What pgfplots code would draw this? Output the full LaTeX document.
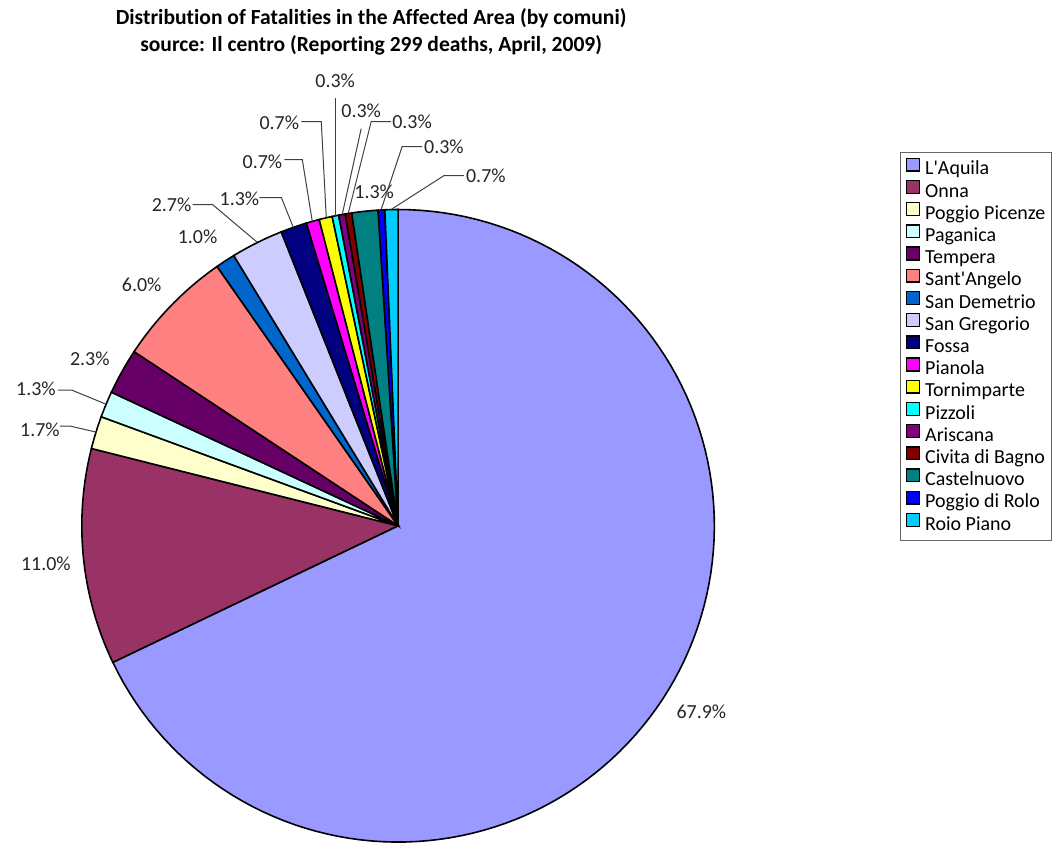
\documentclass[border=0pt]{standalone}
\usepackage{pgfplots}
\pgfplotsset{compat=1.18}
\usepackage{fontspec}
\setmainfont{Carlito}[Ligatures={TeXOff,CommonOff}]
\definecolor{cA}{HTML}{9999FF}
\definecolor{cB}{HTML}{993366}
\definecolor{cC}{HTML}{FFFFCC}
\definecolor{cD}{HTML}{CCFFFF}
\definecolor{cE}{HTML}{660066}
\definecolor{cF}{HTML}{FF8080}
\definecolor{cG}{HTML}{0066CC}
\definecolor{cH}{HTML}{CCCCFF}
\definecolor{cI}{HTML}{000080}
\definecolor{cJ}{HTML}{FF00FF}
\definecolor{cK}{HTML}{FFFF00}
\definecolor{cL}{HTML}{00FFFF}
\definecolor{cM}{HTML}{800080}
\definecolor{cN}{HTML}{800000}
\definecolor{cO}{HTML}{008080}
\definecolor{cP}{HTML}{0000FF}
\definecolor{cQ}{HTML}{00CCFF}
% #1 cumulative deaths before slice, #2 cumulative deaths after slice (of 299)
\newcommand{\slice}[4]{%
  \addplot[draw=black, line width=0.8pt, fill=#3,
    domain={90-#2*360/299}:{90-#1*360/299}, samples=120, variable=\t]
    ({399+317*cos(\t)},{320+317*sin(\t)}) -- (axis cs:399,320) -- cycle;
  \addlegendentry{#4}
}
\begin{document}
\begin{tikzpicture}[lab/.style={font=\fontsize{10}{12}\selectfont, text=black!85, inner sep=0pt}]
\begin{axis}[
  scale only axis, width=526pt, height=423.5pt,
  xmin=0, xmax=1052, ymin=0, ymax=847,
  hide axis, clip=false,
  legend cell align=left,
  legend image code/.code={\draw[#1, line width=0.65pt] (0pt,-0.4pt) rectangle (6.4pt,6.0pt);},
  legend style={draw=black!60, line width=0.5pt, at={(axis cs:903,694)}, anchor=north west,
    outer sep=0pt,
    font=\fontsize{10}{12}\selectfont, row sep=0pt, column sep=2pt, inner xsep=2.5pt, inner ysep=2.5pt,
    nodes={inner sep=0.6pt, text height=6.5pt, text depth=1.9pt}},
  leader/.style={black!75, line width=0.5pt, forget plot, mark=none},
]
\path (axis cs:0,0) rectangle (axis cs:1052,847);
\slice{0}{203}{cA}{L'Aquila}
\slice{203}{236}{cB}{Onna}
\slice{236}{241}{cC}{Poggio Picenze}
\slice{241}{245}{cD}{Paganica}
\slice{245}{252}{cE}{Tempera}
\slice{252}{270}{cF}{Sant'Angelo}
\slice{270}{273}{cG}{San Demetrio}
\slice{273}{281}{cH}{San Gregorio}
\slice{281}{285}{cI}{Fossa}
\slice{285}{287}{cJ}{Pianola}
\slice{287}{289}{cK}{Tornimparte}
\slice{289}{290}{cL}{Pizzoli}
\slice{290}{291}{cM}{Ariscana}
\slice{291}{292}{cN}{Civita di Bagno}
\slice{292}{296}{cO}{Castelnuovo}
\slice{296}{297}{cP}{Poggio di Rolo}
\slice{297}{299}{cQ}{Roio Piano}
% leader lines
\addplot[leader] coordinates {(60,420) (70,420) (96,414)};
\addplot[leader] coordinates {(58,456) (72,456) (106,442)};
\addplot[leader] coordinates {(193,642) (213,642) (258,604)};
\addplot[leader] coordinates {(260,649) (282,649) (294,619)};
\addplot[leader] coordinates {(285,687) (303,687) (313,625)};
\addplot[leader] coordinates {(302,725) (322,725) (327,629)};
\addplot[leader] coordinates {(336,749) (336,631)};
\addplot[leader] coordinates {(362,718) (343,632)};
\addplot[leader] coordinates {(392,725) (372,725) (349,633)};
\addplot[leader] coordinates {(423,700) (403,700) (382,637)};
\addplot[leader] coordinates {(465,671) (445,671) (392,637)};
% labels
\node[lab] at (axis cs:703,134) {67.9\%};
\node[lab] at (axis cs:46,282) {11.0\%};
\node[lab] at (axis cs:40,416) {1.7\%};
\node[lab] at (axis cs:36,457) {1.3\%};
\node[lab] at (axis cs:90,487) {2.3\%};
\node[lab] at (axis cs:142,562) {6.0\%};
\node[lab] at (axis cs:198,610) {1.0\%};
\node[lab] at (axis cs:172,642) {2.7\%};
\node[lab] at (axis cs:240,648) {1.3\%};
\node[lab] at (axis cs:263,685) {0.7\%};
\node[lab] at (axis cs:280,724) {0.7\%};
\node[lab] at (axis cs:336,766) {0.3\%};
\node[lab] at (axis cs:362,736) {0.3\%};
\node[lab] at (axis cs:413,725) {0.3\%};
\node[lab] at (axis cs:375,655) {1.3\%};
\node[lab] at (axis cs:445,700) {0.3\%};
\node[lab] at (axis cs:487,671) {0.7\%};
% title
\node[align=center, font=\bfseries\fontsize{10.8}{13.9}\selectfont, text=black, inner sep=0pt]
  at (axis cs:372,815) {Distribution of Fatalities in the Affected Area (by comuni)\\source: Il centro (Reporting 299 deaths, April, 2009)};
\end{axis}
\end{tikzpicture}
\end{document}
